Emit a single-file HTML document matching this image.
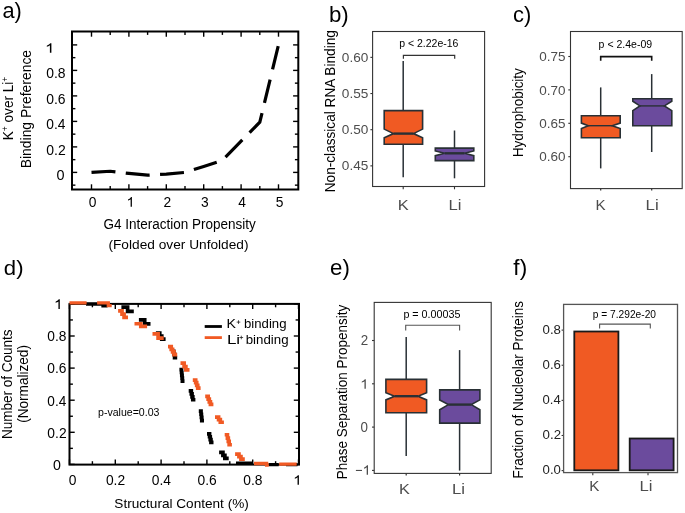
<!DOCTYPE html>
<html><head><meta charset="utf-8"><style>
html,body{margin:0;padding:0;background:#fff;}
svg{display:block;filter:blur(0.3px);}
text{font-family:"Liberation Sans",sans-serif;}
</style></head><body>
<svg width="685" height="513" viewBox="0 0 685 513">
<rect width="685" height="513" fill="#fff"/>
<text x="2.49" y="18" font-size="21.5" fill="#000" textLength="19.37" lengthAdjust="spacingAndGlyphs">a)</text>
<line x1="91.5" y1="189.5" x2="91.5" y2="184.3" stroke="#000" stroke-width="1.4"/>
<line x1="91.5" y1="31.5" x2="91.5" y2="36.7" stroke="#000" stroke-width="1.4"/>
<line x1="110.2" y1="189.5" x2="110.2" y2="186.1" stroke="#000" stroke-width="1.4"/>
<line x1="110.2" y1="31.5" x2="110.2" y2="34.9" stroke="#000" stroke-width="1.4"/>
<line x1="128.9" y1="189.5" x2="128.9" y2="184.3" stroke="#000" stroke-width="1.4"/>
<line x1="128.9" y1="31.5" x2="128.9" y2="36.7" stroke="#000" stroke-width="1.4"/>
<line x1="147.6" y1="189.5" x2="147.6" y2="186.1" stroke="#000" stroke-width="1.4"/>
<line x1="147.6" y1="31.5" x2="147.6" y2="34.9" stroke="#000" stroke-width="1.4"/>
<line x1="166.3" y1="189.5" x2="166.3" y2="184.3" stroke="#000" stroke-width="1.4"/>
<line x1="166.3" y1="31.5" x2="166.3" y2="36.7" stroke="#000" stroke-width="1.4"/>
<line x1="185" y1="189.5" x2="185" y2="186.1" stroke="#000" stroke-width="1.4"/>
<line x1="185" y1="31.5" x2="185" y2="34.9" stroke="#000" stroke-width="1.4"/>
<line x1="203.7" y1="189.5" x2="203.7" y2="184.3" stroke="#000" stroke-width="1.4"/>
<line x1="203.7" y1="31.5" x2="203.7" y2="36.7" stroke="#000" stroke-width="1.4"/>
<line x1="222.4" y1="189.5" x2="222.4" y2="186.1" stroke="#000" stroke-width="1.4"/>
<line x1="222.4" y1="31.5" x2="222.4" y2="34.9" stroke="#000" stroke-width="1.4"/>
<line x1="241.1" y1="189.5" x2="241.1" y2="184.3" stroke="#000" stroke-width="1.4"/>
<line x1="241.1" y1="31.5" x2="241.1" y2="36.7" stroke="#000" stroke-width="1.4"/>
<line x1="259.8" y1="189.5" x2="259.8" y2="186.1" stroke="#000" stroke-width="1.4"/>
<line x1="259.8" y1="31.5" x2="259.8" y2="34.9" stroke="#000" stroke-width="1.4"/>
<line x1="278.5" y1="189.5" x2="278.5" y2="184.3" stroke="#000" stroke-width="1.4"/>
<line x1="278.5" y1="31.5" x2="278.5" y2="36.7" stroke="#000" stroke-width="1.4"/>
<line x1="72" y1="185.15" x2="75.4" y2="185.15" stroke="#000" stroke-width="1.4"/>
<line x1="298.3" y1="185.15" x2="294.9" y2="185.15" stroke="#000" stroke-width="1.4"/>
<line x1="72" y1="172.4" x2="77.2" y2="172.4" stroke="#000" stroke-width="1.4"/>
<line x1="298.3" y1="172.4" x2="293.1" y2="172.4" stroke="#000" stroke-width="1.4"/>
<line x1="72" y1="159.65" x2="75.4" y2="159.65" stroke="#000" stroke-width="1.4"/>
<line x1="298.3" y1="159.65" x2="294.9" y2="159.65" stroke="#000" stroke-width="1.4"/>
<line x1="72" y1="146.9" x2="77.2" y2="146.9" stroke="#000" stroke-width="1.4"/>
<line x1="298.3" y1="146.9" x2="293.1" y2="146.9" stroke="#000" stroke-width="1.4"/>
<line x1="72" y1="134.15" x2="75.4" y2="134.15" stroke="#000" stroke-width="1.4"/>
<line x1="298.3" y1="134.15" x2="294.9" y2="134.15" stroke="#000" stroke-width="1.4"/>
<line x1="72" y1="121.4" x2="77.2" y2="121.4" stroke="#000" stroke-width="1.4"/>
<line x1="298.3" y1="121.4" x2="293.1" y2="121.4" stroke="#000" stroke-width="1.4"/>
<line x1="72" y1="108.65" x2="75.4" y2="108.65" stroke="#000" stroke-width="1.4"/>
<line x1="298.3" y1="108.65" x2="294.9" y2="108.65" stroke="#000" stroke-width="1.4"/>
<line x1="72" y1="95.9" x2="77.2" y2="95.9" stroke="#000" stroke-width="1.4"/>
<line x1="298.3" y1="95.9" x2="293.1" y2="95.9" stroke="#000" stroke-width="1.4"/>
<line x1="72" y1="83.15" x2="75.4" y2="83.15" stroke="#000" stroke-width="1.4"/>
<line x1="298.3" y1="83.15" x2="294.9" y2="83.15" stroke="#000" stroke-width="1.4"/>
<line x1="72" y1="70.4" x2="77.2" y2="70.4" stroke="#000" stroke-width="1.4"/>
<line x1="298.3" y1="70.4" x2="293.1" y2="70.4" stroke="#000" stroke-width="1.4"/>
<line x1="72" y1="57.65" x2="75.4" y2="57.65" stroke="#000" stroke-width="1.4"/>
<line x1="298.3" y1="57.65" x2="294.9" y2="57.65" stroke="#000" stroke-width="1.4"/>
<line x1="72" y1="44.9" x2="77.2" y2="44.9" stroke="#000" stroke-width="1.4"/>
<line x1="298.3" y1="44.9" x2="293.1" y2="44.9" stroke="#000" stroke-width="1.4"/>
<rect x="72" y="31.5" width="226.3" height="158" stroke="#000" stroke-width="2" fill="none"/>
<path d="M91.5 172.4 L110.2 171.25 L128.9 173.42 L147.6 175.21 L166.3 174.06 L185 172.4 L203.7 166.41 L222.4 160.29 L241.1 141.23 L259.8 122.17 L278.5 44.9" fill="none" stroke="#000" stroke-width="3.2" stroke-dasharray="24 10.4" stroke-linejoin="miter"/>
<path d="M0.373 0 L0.285 0 L0.285 0.560 C0.264 0.540 0.235 0.520 0.199 0.499 C0.164 0.478 0.132 0.463 0.104 0.452 L0.104 0.537 C0.153 0.560 0.196 0.588 0.233 0.621 C0.270 0.654 0.296 0.686 0.311 0.716 L0.373 0.716 Z" fill="#000" transform="translate(45.02 52.7) scale(17.100 -13.128)"/>
<text x="46.26" y="78.2" font-size="13.8" fill="#000" textLength="19.34" lengthAdjust="spacingAndGlyphs">0.8</text>
<text x="46.26" y="103.7" font-size="13.8" fill="#000" textLength="19.36" lengthAdjust="spacingAndGlyphs">0.6</text>
<text x="46.26" y="129.2" font-size="13.8" fill="#000" textLength="19.14" lengthAdjust="spacingAndGlyphs">0.4</text>
<text x="46.25" y="154.7" font-size="13.8" fill="#000" textLength="19.45" lengthAdjust="spacingAndGlyphs">0.2</text>
<text x="56.54" y="179.8" font-size="13.8" fill="#000" textLength="8.03" lengthAdjust="spacingAndGlyphs">0</text>
<text x="92.6" y="207.2" font-size="13.8" fill="#000" text-anchor="middle">0</text>
<path d="M0.373 0 L0.285 0 L0.285 0.560 C0.264 0.540 0.235 0.520 0.199 0.499 C0.164 0.478 0.132 0.463 0.104 0.452 L0.104 0.537 C0.153 0.560 0.196 0.588 0.233 0.621 C0.270 0.654 0.296 0.686 0.311 0.716 L0.373 0.716 Z" fill="#000" transform="translate(126.49 206.8) scale(14.498 -13.547)"/>
<text x="167.4" y="207.2" font-size="13.8" fill="#000" text-anchor="middle">2</text>
<text x="204.8" y="207.2" font-size="13.8" fill="#000" text-anchor="middle">3</text>
<text x="242.2" y="207.2" font-size="13.8" fill="#000" text-anchor="middle">4</text>
<text x="279.6" y="207.2" font-size="13.8" fill="#000" text-anchor="middle">5</text>
<text x="103.42" y="229.3" font-size="13.8" fill="#000" textLength="152.4" lengthAdjust="spacingAndGlyphs">G4 Interaction Propensity</text>
<text x="108.45" y="248.9" font-size="13.6" fill="#000" textLength="140.09" lengthAdjust="spacingAndGlyphs">(Folded over Unfolded)</text>
<text x="0" y="0" transform="translate(12.6 140.22) rotate(-90)" font-size="14.5" fill="#000" textLength="63.53" lengthAdjust="spacingAndGlyphs">K<tspan font-size="9" dy="-4.5">+</tspan><tspan dy="4.5"> over Li</tspan><tspan font-size="9" dy="-4.5">+</tspan></text>
<text x="0" y="0" transform="translate(30.9 168.34) rotate(-90)" font-size="15" fill="#000" textLength="118.46" lengthAdjust="spacingAndGlyphs">Binding Preference</text>
<text x="328.95" y="22.2" font-size="21.5" fill="#000" textLength="19.84" lengthAdjust="spacingAndGlyphs">b)</text>
<line x1="370.4" y1="57.36" x2="372.6" y2="57.36" stroke="#333333" stroke-width="1.1"/>
<text x="341.87" y="61.86" font-size="13.3" fill="#4D4D4D" textLength="26.46" lengthAdjust="spacingAndGlyphs">0.60</text>
<line x1="370.4" y1="93.53" x2="372.6" y2="93.53" stroke="#333333" stroke-width="1.1"/>
<text x="341.87" y="98.03" font-size="13.3" fill="#4D4D4D" textLength="26.51" lengthAdjust="spacingAndGlyphs">0.55</text>
<line x1="370.4" y1="129.7" x2="372.6" y2="129.7" stroke="#333333" stroke-width="1.1"/>
<text x="341.87" y="134.2" font-size="13.3" fill="#4D4D4D" textLength="26.46" lengthAdjust="spacingAndGlyphs">0.50</text>
<line x1="370.4" y1="165.87" x2="372.6" y2="165.87" stroke="#333333" stroke-width="1.1"/>
<text x="341.87" y="170.37" font-size="13.3" fill="#4D4D4D" textLength="26.51" lengthAdjust="spacingAndGlyphs">0.45</text>
<line x1="403.2" y1="186.5" x2="403.2" y2="189.3" stroke="#333333" stroke-width="1.1"/>
<line x1="454.5" y1="186.5" x2="454.5" y2="189.3" stroke="#333333" stroke-width="1.1"/>
<line x1="403.2" y1="61" x2="403.2" y2="110.5" stroke="#293035" stroke-width="1.5"/>
<line x1="403.2" y1="143.9" x2="403.2" y2="177.2" stroke="#293035" stroke-width="1.5"/>
<line x1="454.5" y1="130.5" x2="454.5" y2="148.1" stroke="#293035" stroke-width="1.5"/>
<line x1="454.5" y1="160.6" x2="454.5" y2="178.3" stroke="#293035" stroke-width="1.5"/>
<path d="M384.2 110.6 L422.6 110.6 L422.6 129.1 L413.5 133.6 L422.6 137.7 L422.6 144.2 L384.2 144.2 L384.2 137.7 L393.5 133.6 L384.2 129.1 Z" fill="#F05A23" stroke="#293035" stroke-width="1.6" stroke-linejoin="miter"/>
<line x1="393.5" y1="133.6" x2="413.5" y2="133.6" stroke="#293035" stroke-width="2.4"/>
<path d="M435.3 148.1 L473.8 148.1 L473.8 150.9 L464.5 153.3 L473.8 155.6 L473.8 160.6 L435.3 160.6 L435.3 155.6 L444.6 153.3 L435.3 150.9 Z" fill="#6B4B9D" stroke="#293035" stroke-width="1.6" stroke-linejoin="miter"/>
<line x1="444.6" y1="153.3" x2="464.5" y2="153.3" stroke="#293035" stroke-width="2.4"/>
<rect x="372.6" y="31.5" width="112" height="155" stroke="#333333" stroke-width="1.1" fill="none"/>
<path d="M403.4 58.7 V55.3 H454.7 V58.7" fill="none" stroke="#333333" stroke-width="1.2"/>
<text x="399.22" y="47.2" font-size="10.6" fill="#000" textLength="59.25" lengthAdjust="spacingAndGlyphs">p &lt; 2.22e-16</text>
<text x="397.75" y="209.9" font-size="15" fill="#4D4D4D" textLength="10.94" lengthAdjust="spacingAndGlyphs">K</text>
<text x="448.43" y="209.9" font-size="15" fill="#4D4D4D" textLength="12.99" lengthAdjust="spacingAndGlyphs">Li</text>
<text x="0" y="0" transform="translate(334.9 192.22) rotate(-90)" font-size="13.8" fill="#000" textLength="162.04" lengthAdjust="spacingAndGlyphs">Non-classical RNA Binding</text>
<text x="512.98" y="22.3" font-size="21.5" fill="#000" textLength="18.28" lengthAdjust="spacingAndGlyphs">c)</text>
<line x1="568.3" y1="56.5" x2="570.5" y2="56.5" stroke="#333333" stroke-width="1.1"/>
<text x="539.27" y="61.2" font-size="13.3" fill="#4D4D4D" textLength="26.3" lengthAdjust="spacingAndGlyphs">0.75</text>
<line x1="568.3" y1="89.9" x2="570.5" y2="89.9" stroke="#333333" stroke-width="1.1"/>
<text x="539.27" y="94.6" font-size="13.3" fill="#4D4D4D" textLength="26.26" lengthAdjust="spacingAndGlyphs">0.70</text>
<line x1="568.3" y1="123.3" x2="570.5" y2="123.3" stroke="#333333" stroke-width="1.1"/>
<text x="539.27" y="128" font-size="13.3" fill="#4D4D4D" textLength="26.3" lengthAdjust="spacingAndGlyphs">0.65</text>
<line x1="568.3" y1="156.7" x2="570.5" y2="156.7" stroke="#333333" stroke-width="1.1"/>
<text x="539.27" y="161.4" font-size="13.3" fill="#4D4D4D" textLength="26.26" lengthAdjust="spacingAndGlyphs">0.60</text>
<line x1="600.7" y1="188.6" x2="600.7" y2="190.6" stroke="#333333" stroke-width="1.2"/>
<line x1="651.7" y1="188.6" x2="651.7" y2="190.6" stroke="#333333" stroke-width="1.2"/>
<line x1="600.7" y1="87.4" x2="600.7" y2="115.7" stroke="#293035" stroke-width="1.5"/>
<line x1="600.7" y1="137.7" x2="600.7" y2="168.4" stroke="#293035" stroke-width="1.5"/>
<line x1="651.7" y1="74.1" x2="651.7" y2="98.7" stroke="#293035" stroke-width="1.5"/>
<line x1="651.7" y1="125.8" x2="651.7" y2="152" stroke="#293035" stroke-width="1.5"/>
<path d="M581.4 115.7 L620.2 115.7 L620.2 123.1 L612.3 125.7 L620.2 128.5 L620.2 137.7 L581.4 137.7 L581.4 128.5 L588.3 125.7 L581.4 123.1 Z" fill="#F05A23" stroke="#293035" stroke-width="1.6" stroke-linejoin="miter"/>
<line x1="588.3" y1="125.7" x2="612.3" y2="125.7" stroke="#293035" stroke-width="1.4"/>
<path d="M632.8 98.7 L671.8 98.7 L671.8 101.2 L664.4 105.9 L671.8 110.6 L671.8 125.8 L632.8 125.8 L632.8 110.6 L639.9 105.9 L632.8 101.2 Z" fill="#6B4B9D" stroke="#293035" stroke-width="1.6" stroke-linejoin="miter"/>
<line x1="639.9" y1="105.9" x2="664.4" y2="105.9" stroke="#293035" stroke-width="1.4"/>
<rect x="570.5" y="31.5" width="111.7" height="157.1" stroke="#333333" stroke-width="1.1" fill="none"/>
<path d="M600.7 60.7 V56.6 H651.7 V60.7" fill="none" stroke="#111" stroke-width="1.6"/>
<text x="598.62" y="47.9" font-size="10.6" fill="#000" textLength="53.58" lengthAdjust="spacingAndGlyphs">p &lt; 2.4e-09</text>
<text x="595.55" y="209.7" font-size="15" fill="#4D4D4D" textLength="10.13" lengthAdjust="spacingAndGlyphs">K</text>
<text x="645.62" y="209.7" font-size="15" fill="#4D4D4D" textLength="13.12" lengthAdjust="spacingAndGlyphs">Li</text>
<text x="0" y="0" transform="translate(523.1 157.1) rotate(-90)" font-size="13.9" fill="#000" textLength="88.93" lengthAdjust="spacingAndGlyphs">Hydrophobicity</text>
<text x="3.87" y="274.6" font-size="21" fill="#000" textLength="19.71" lengthAdjust="spacingAndGlyphs">d)</text>
<line x1="69.5" y1="464.6" x2="69.5" y2="459.4" stroke="#000" stroke-width="1.4"/>
<line x1="69.5" y1="303.9" x2="69.5" y2="309.1" stroke="#000" stroke-width="1.4"/>
<line x1="92.4" y1="464.6" x2="92.4" y2="461.2" stroke="#000" stroke-width="1.4"/>
<line x1="92.4" y1="303.9" x2="92.4" y2="307.3" stroke="#000" stroke-width="1.4"/>
<line x1="115.3" y1="464.6" x2="115.3" y2="459.4" stroke="#000" stroke-width="1.4"/>
<line x1="115.3" y1="303.9" x2="115.3" y2="309.1" stroke="#000" stroke-width="1.4"/>
<line x1="138.2" y1="464.6" x2="138.2" y2="461.2" stroke="#000" stroke-width="1.4"/>
<line x1="138.2" y1="303.9" x2="138.2" y2="307.3" stroke="#000" stroke-width="1.4"/>
<line x1="161.1" y1="464.6" x2="161.1" y2="459.4" stroke="#000" stroke-width="1.4"/>
<line x1="161.1" y1="303.9" x2="161.1" y2="309.1" stroke="#000" stroke-width="1.4"/>
<line x1="184" y1="464.6" x2="184" y2="461.2" stroke="#000" stroke-width="1.4"/>
<line x1="184" y1="303.9" x2="184" y2="307.3" stroke="#000" stroke-width="1.4"/>
<line x1="206.9" y1="464.6" x2="206.9" y2="459.4" stroke="#000" stroke-width="1.4"/>
<line x1="206.9" y1="303.9" x2="206.9" y2="309.1" stroke="#000" stroke-width="1.4"/>
<line x1="229.8" y1="464.6" x2="229.8" y2="461.2" stroke="#000" stroke-width="1.4"/>
<line x1="229.8" y1="303.9" x2="229.8" y2="307.3" stroke="#000" stroke-width="1.4"/>
<line x1="252.7" y1="464.6" x2="252.7" y2="459.4" stroke="#000" stroke-width="1.4"/>
<line x1="252.7" y1="303.9" x2="252.7" y2="309.1" stroke="#000" stroke-width="1.4"/>
<line x1="275.6" y1="464.6" x2="275.6" y2="461.2" stroke="#000" stroke-width="1.4"/>
<line x1="275.6" y1="303.9" x2="275.6" y2="307.3" stroke="#000" stroke-width="1.4"/>
<line x1="298.5" y1="464.6" x2="298.5" y2="459.4" stroke="#000" stroke-width="1.4"/>
<line x1="298.5" y1="303.9" x2="298.5" y2="309.1" stroke="#000" stroke-width="1.4"/>
<line x1="69.5" y1="464.4" x2="74.7" y2="464.4" stroke="#000" stroke-width="1.4"/>
<line x1="299" y1="464.4" x2="293.8" y2="464.4" stroke="#000" stroke-width="1.4"/>
<line x1="69.5" y1="448.35" x2="72.9" y2="448.35" stroke="#000" stroke-width="1.4"/>
<line x1="299" y1="448.35" x2="295.6" y2="448.35" stroke="#000" stroke-width="1.4"/>
<line x1="69.5" y1="432.3" x2="74.7" y2="432.3" stroke="#000" stroke-width="1.4"/>
<line x1="299" y1="432.3" x2="293.8" y2="432.3" stroke="#000" stroke-width="1.4"/>
<line x1="69.5" y1="416.25" x2="72.9" y2="416.25" stroke="#000" stroke-width="1.4"/>
<line x1="299" y1="416.25" x2="295.6" y2="416.25" stroke="#000" stroke-width="1.4"/>
<line x1="69.5" y1="400.2" x2="74.7" y2="400.2" stroke="#000" stroke-width="1.4"/>
<line x1="299" y1="400.2" x2="293.8" y2="400.2" stroke="#000" stroke-width="1.4"/>
<line x1="69.5" y1="384.15" x2="72.9" y2="384.15" stroke="#000" stroke-width="1.4"/>
<line x1="299" y1="384.15" x2="295.6" y2="384.15" stroke="#000" stroke-width="1.4"/>
<line x1="69.5" y1="368.1" x2="74.7" y2="368.1" stroke="#000" stroke-width="1.4"/>
<line x1="299" y1="368.1" x2="293.8" y2="368.1" stroke="#000" stroke-width="1.4"/>
<line x1="69.5" y1="352.05" x2="72.9" y2="352.05" stroke="#000" stroke-width="1.4"/>
<line x1="299" y1="352.05" x2="295.6" y2="352.05" stroke="#000" stroke-width="1.4"/>
<line x1="69.5" y1="336" x2="74.7" y2="336" stroke="#000" stroke-width="1.4"/>
<line x1="299" y1="336" x2="293.8" y2="336" stroke="#000" stroke-width="1.4"/>
<line x1="69.5" y1="319.95" x2="72.9" y2="319.95" stroke="#000" stroke-width="1.4"/>
<line x1="299" y1="319.95" x2="295.6" y2="319.95" stroke="#000" stroke-width="1.4"/>
<line x1="69.5" y1="303.9" x2="74.7" y2="303.9" stroke="#000" stroke-width="1.4"/>
<line x1="299" y1="303.9" x2="293.8" y2="303.9" stroke="#000" stroke-width="1.4"/>
<rect x="69.5" y="303.9" width="229.5" height="160.7" stroke="#000" stroke-width="2" fill="none"/>
<path d="M86 304 L103 304 L103 305.9 L107.5 305.9 M236 463.1 L252.4 463.1 M268.8 464.6 L278.7 464.6 M286 464.6 L297.5 464.6" fill="none" stroke="#000" stroke-width="3.3"/>
<path d="M123.25 307.15 H127.6 V311.45 H131.95 M140.75 319.85 H144.7 V323.95 H148.65 M157.75 333.05 H159.75 V336.05 H161.75 V339.05 H163.75 M173.05 351.25 H173.82 V354.45 H174.58 V357.65 H175.35 M181.25 369.65 H181.53 V372.5 H181.81 V375.35 H182.09 V378.2 H182.37 V381.05 H182.65 M190.55 390.95 H191.3 V393.88 H192.05 V396.82 H192.8 V399.75 H193.55 M200.65 411.05 H201.03 V414.25 H201.4 V417.45 H201.78 V420.65 H202.15 M208.85 433.95 H209.55 V436.75 H210.25 V439.55 H210.95 V442.35 H211.65 M220.95 452.45 H222.92 V455.4 H224.88 V458.35 H226.85" fill="none" stroke="#000" stroke-width="3.7" stroke-linecap="square"/>
<path d="M69.5 302.9 L86.6 302.9 M97.1 302.9 L108.3 302.9 L108.3 305.6 L111.7 305.6 M254 463.5 L266.6 463.5 L266.6 465.2 L268.8 465.2 M279.2 464.2 L296.7 464.2" fill="none" stroke="#F15A24" stroke-width="3.3"/>
<path d="M119.95 310.85 H122.02 V314.1 H124.08 V317.35 H126.15 M136.35 323.75 H140.8 V326.35 H145.25 M154.35 333.95 H158.1 V338.05 H161.85 M169.85 346.65 H171.22 V349.28 H172.6 V351.92 H173.97 V354.55 H175.35 M182.35 363.15 H184.12 V366.55 H185.88 V369.95 H187.65 M194.65 380.05 H195.68 V382.72 H196.7 V385.38 H197.73 V388.05 H198.75 M207.05 396.45 H208.17 V399.12 H209.3 V401.78 H210.42 V404.45 H211.55 M216.85 417.15 H218.58 V419.7 H220.32 V422.25 H222.05 M226.55 434.75 H227.42 V438.08 H228.3 V441.42 H229.17 V444.75 H230.05 M236.95 454.05 H238.95 V456.6 H240.95 V459.15 H242.95" fill="none" stroke="#F15A24" stroke-width="3.7" stroke-linecap="square"/>
<line x1="204.7" y1="326.5" x2="221.9" y2="326.5" stroke="#000" stroke-width="2.8"/>
<line x1="204.7" y1="337.6" x2="221.9" y2="337.6" stroke="#F15A24" stroke-width="2.8"/>
<text x="226.64" y="328.3" font-size="13" fill="#000" textLength="9.43" lengthAdjust="spacingAndGlyphs">K</text>
<line x1="236.7" y1="322.1" x2="240.3" y2="322.1" stroke="#222" stroke-width="0.8"/>
<line x1="238.5" y1="320.3" x2="238.5" y2="323.9" stroke="#222" stroke-width="0.8"/>
<text x="244.04" y="328.3" font-size="13" fill="#000" textLength="42.5" lengthAdjust="spacingAndGlyphs">binding</text>
<text x="226.91" y="343.9" font-size="13" fill="#000" textLength="13.24" lengthAdjust="spacingAndGlyphs">Li</text>
<line x1="239.5" y1="337.5" x2="243.1" y2="337.5" stroke="#222" stroke-width="0.8"/>
<line x1="241.3" y1="335.7" x2="241.3" y2="339.3" stroke="#222" stroke-width="0.8"/>
<text x="245.74" y="343.9" font-size="13" fill="#000" textLength="42.81" lengthAdjust="spacingAndGlyphs">binding</text>
<text x="98.01" y="416.3" font-size="10.6" fill="#000" textLength="61.45" lengthAdjust="spacingAndGlyphs">p-value=0.03</text>
<path d="M0.373 0 L0.285 0 L0.285 0.560 C0.264 0.540 0.235 0.520 0.199 0.499 C0.164 0.478 0.132 0.463 0.104 0.452 L0.104 0.537 C0.153 0.560 0.196 0.588 0.233 0.621 C0.270 0.654 0.296 0.686 0.311 0.716 L0.373 0.716 Z" fill="#000" transform="translate(53.98 308.9) scale(15.613 -13.408)"/>
<text x="47.36" y="341.3" font-size="13.8" fill="#000" textLength="19.13" lengthAdjust="spacingAndGlyphs">0.8</text>
<text x="47.36" y="373.4" font-size="13.8" fill="#000" textLength="19.15" lengthAdjust="spacingAndGlyphs">0.6</text>
<text x="47.37" y="405.5" font-size="13.8" fill="#000" textLength="18.93" lengthAdjust="spacingAndGlyphs">0.4</text>
<text x="47.36" y="437.6" font-size="13.8" fill="#000" textLength="19.23" lengthAdjust="spacingAndGlyphs">0.2</text>
<text x="53.05" y="469.9" font-size="13.8" fill="#000" textLength="7.91" lengthAdjust="spacingAndGlyphs">0</text>
<text x="72.5" y="485.4" font-size="13.8" fill="#000" text-anchor="middle">0</text>
<text x="115.5" y="485.4" font-size="13.8" fill="#000" text-anchor="middle">0.2</text>
<text x="161.3" y="485.4" font-size="13.8" fill="#000" text-anchor="middle">0.4</text>
<text x="207.1" y="485.4" font-size="13.8" fill="#000" text-anchor="middle">0.6</text>
<text x="252.9" y="485.4" font-size="13.8" fill="#000" text-anchor="middle">0.8</text>
<path d="M0.373 0 L0.285 0 L0.285 0.560 C0.264 0.540 0.235 0.520 0.199 0.499 C0.164 0.478 0.132 0.463 0.104 0.452 L0.104 0.537 C0.153 0.560 0.196 0.588 0.233 0.621 C0.270 0.654 0.296 0.686 0.311 0.716 L0.373 0.716 Z" fill="#000" transform="translate(293.21 484.8) scale(15.242 -13.268)"/>
<text x="114.37" y="507.9" font-size="13.6" fill="#000" textLength="134.46" lengthAdjust="spacingAndGlyphs">Structural Content (%)</text>
<text x="0" y="0" transform="translate(12 439.11) rotate(-90)" font-size="14" fill="#000" textLength="109.69" lengthAdjust="spacingAndGlyphs">Number of Counts</text>
<text x="0" y="0" transform="translate(27.6 422.84) rotate(-90)" font-size="13.8" fill="#000" textLength="77.79" lengthAdjust="spacingAndGlyphs">(Normalized)</text>
<text x="330.06" y="274.9" font-size="21.5" fill="#000" textLength="19.82" lengthAdjust="spacingAndGlyphs">e)</text>
<line x1="372" y1="340.5" x2="374.2" y2="340.5" stroke="#333333" stroke-width="1.1"/>
<text x="360.72" y="345.4" font-size="14.4" fill="#4D4D4D" textLength="7.45" lengthAdjust="spacingAndGlyphs">2</text>
<line x1="372" y1="383.8" x2="374.2" y2="383.8" stroke="#333333" stroke-width="1.1"/>
<path d="M0.373 0 L0.285 0 L0.285 0.560 C0.264 0.540 0.235 0.520 0.199 0.499 C0.164 0.478 0.132 0.463 0.104 0.452 L0.104 0.537 C0.153 0.560 0.196 0.588 0.233 0.621 C0.270 0.654 0.296 0.686 0.311 0.716 L0.373 0.716 Z" fill="#4D4D4D" transform="translate(360.25 388.8) scale(14.870 -13.408)"/>
<line x1="372" y1="427.1" x2="374.2" y2="427.1" stroke="#333333" stroke-width="1.1"/>
<text x="360.58" y="432" font-size="14.4" fill="#4D4D4D" textLength="7.45" lengthAdjust="spacingAndGlyphs">0</text>
<line x1="372" y1="470.4" x2="374.2" y2="470.4" stroke="#333333" stroke-width="1.1"/>
<line x1="355.9" y1="470.45" x2="362" y2="470.45" stroke="#4D4D4D" stroke-width="1.1"/>
<path d="M0.373 0 L0.285 0 L0.285 0.560 C0.264 0.540 0.235 0.520 0.199 0.499 C0.164 0.478 0.132 0.463 0.104 0.452 L0.104 0.537 C0.153 0.560 0.196 0.588 0.233 0.621 C0.270 0.654 0.296 0.686 0.311 0.716 L0.373 0.716 Z" fill="#4D4D4D" transform="translate(362.45 474.7) scale(14.870 -13.128)"/>
<line x1="406.2" y1="473.4" x2="406.2" y2="475.4" stroke="#333333" stroke-width="1.2"/>
<line x1="459.6" y1="473.4" x2="459.6" y2="475.4" stroke="#333333" stroke-width="1.2"/>
<line x1="406.2" y1="336.9" x2="406.2" y2="379.4" stroke="#293035" stroke-width="1.5"/>
<line x1="406.2" y1="412.8" x2="406.2" y2="456.1" stroke="#293035" stroke-width="1.5"/>
<line x1="459.6" y1="350.1" x2="459.6" y2="389.9" stroke="#293035" stroke-width="1.5"/>
<line x1="459.6" y1="423.1" x2="459.6" y2="470.6" stroke="#293035" stroke-width="1.5"/>
<path d="M385.9 379.4 L426.6 379.4 L426.6 392.7 L418 396.2 L426.6 399.9 L426.6 412.8 L385.9 412.8 L385.9 399.9 L394.6 396.2 L385.9 392.7 Z" fill="#F05A23" stroke="#293035" stroke-width="1.6" stroke-linejoin="miter"/>
<line x1="394.6" y1="396.2" x2="418" y2="396.2" stroke="#293035" stroke-width="2.4"/>
<path d="M439.7 389.9 L479.9 389.9 L479.9 399.9 L471.3 404.6 L479.9 409.8 L479.9 423.1 L439.7 423.1 L439.7 409.8 L448.4 404.6 L439.7 399.9 Z" fill="#6B4B9D" stroke="#293035" stroke-width="1.6" stroke-linejoin="miter"/>
<line x1="448.4" y1="404.6" x2="471.3" y2="404.6" stroke="#293035" stroke-width="2.4"/>
<rect x="374.2" y="302.4" width="117" height="171" stroke="#333333" stroke-width="1.1" fill="none"/>
<path d="M405.7 330.5 V325.2 H459.6 V330.5" fill="none" stroke="#555" stroke-width="1.1"/>
<text x="403.4" y="318.1" font-size="10.7" fill="#000" textLength="57.06" lengthAdjust="spacingAndGlyphs">p = 0.00035</text>
<text x="398.97" y="494" font-size="15.5" fill="#4D4D4D" textLength="10.83" lengthAdjust="spacingAndGlyphs">K</text>
<text x="452.03" y="494" font-size="15.5" fill="#4D4D4D" textLength="12.99" lengthAdjust="spacingAndGlyphs">Li</text>
<text x="0" y="0" transform="translate(346.9 479.2) rotate(-90)" font-size="14" fill="#000" textLength="174.33" lengthAdjust="spacingAndGlyphs">Phase Separation Propensity</text>
<text x="513.38" y="274.9" font-size="21.5" fill="#000" textLength="13.82" lengthAdjust="spacingAndGlyphs">f)</text>
<line x1="561.6" y1="330.12" x2="563.6" y2="330.12" stroke="#333333" stroke-width="1.1"/>
<text x="542.58" y="333.52" font-size="12.4" fill="#222" textLength="18.39" lengthAdjust="spacingAndGlyphs">0.8</text>
<line x1="561.6" y1="365.24" x2="563.6" y2="365.24" stroke="#333333" stroke-width="1.1"/>
<text x="542.58" y="368.64" font-size="12.4" fill="#222" textLength="18.4" lengthAdjust="spacingAndGlyphs">0.6</text>
<line x1="561.6" y1="400.36" x2="563.6" y2="400.36" stroke="#333333" stroke-width="1.1"/>
<text x="542.59" y="403.76" font-size="12.4" fill="#222" textLength="18.19" lengthAdjust="spacingAndGlyphs">0.4</text>
<line x1="561.6" y1="435.48" x2="563.6" y2="435.48" stroke="#333333" stroke-width="1.1"/>
<text x="542.58" y="438.88" font-size="12.4" fill="#222" textLength="18.49" lengthAdjust="spacingAndGlyphs">0.2</text>
<line x1="561.6" y1="470.6" x2="563.6" y2="470.6" stroke="#333333" stroke-width="1.1"/>
<text x="542.59" y="474" font-size="12.4" fill="#222" textLength="18.33" lengthAdjust="spacingAndGlyphs">0.0</text>
<line x1="592.8" y1="472.6" x2="592.8" y2="475.3" stroke="#333333" stroke-width="1.1"/>
<line x1="648" y1="472.6" x2="648" y2="475.3" stroke="#333333" stroke-width="1.1"/>
<rect x="574.3" y="331.5" width="44.1" height="138.8" stroke="#1a1a1a" stroke-width="1.8" fill="#F05A23"/>
<rect x="629.7" y="438.5" width="43.9" height="31.8" stroke="#1a1a1a" stroke-width="1.8" fill="#6B4B9D"/>
<rect x="563.6" y="304.4" width="113.9" height="168.2" stroke="#555" stroke-width="1.3" fill="none"/>
<path d="M599.6 328.6 V324.1 H650.3 V328.6" fill="none" stroke="#555" stroke-width="1.1"/>
<text x="592.84" y="317.6" font-size="10.2" fill="#000" textLength="63.16" lengthAdjust="spacingAndGlyphs">p = 7.292e-20</text>
<text x="589.25" y="491.1" font-size="14" fill="#4D4D4D" textLength="10.13" lengthAdjust="spacingAndGlyphs">K</text>
<text x="639.43" y="491.1" font-size="14" fill="#4D4D4D" textLength="12.99" lengthAdjust="spacingAndGlyphs">Li</text>
<text x="0" y="0" transform="translate(523.4 478.5) rotate(-90)" font-size="13.8" fill="#000" textLength="177.5" lengthAdjust="spacingAndGlyphs">Fraction of Nucleolar Proteins</text>
</svg>
</body></html>
